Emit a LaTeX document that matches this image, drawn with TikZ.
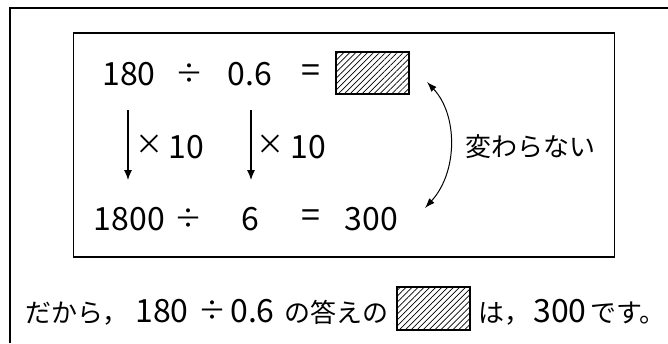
\documentclass[tikz,border=0pt]{standalone}
\usepackage{fontspec}
\setmainfont{Noto Sans CJK JP}
\usetikzlibrary{arrows.meta,patterns.meta}
\begin{document}
\begin{tikzpicture}[x=1pt,y=-1pt,
  num/.style={font=\fontsize{32}{36}\selectfont, inner sep=0pt, anchor=base},
  sym/.style={font=\fontsize{28}{32}\selectfont, inner sep=0pt, anchor=center},
  eqs/.style={font=\fontsize{34}{38}\selectfont, inner sep=0pt, anchor=center},
  jp/.style={font=\fontsize{26}{30}\selectfont, inner sep=0pt, anchor=base west},
  hatchbox/.style={draw=black, line width=1.3pt, inner sep=0pt,
    pattern={Lines[angle=45,distance=4.2pt,line width=0.7pt]}},
  downarrow/.style={-{Latex[length=10pt,width=8pt]}, line width=1.1pt},
  bothtips/.style={{Latex[length=10pt,width=7pt]}-{Latex[length=10pt,width=7pt]}, line width=1pt},
  frameline/.style={line width=1.4pt},
  ]
\useasboundingbox (0,0) rectangle (668,343);
% outer frame (cut by the picture edges)
\draw[frameline] (10,343) -- (10,8) -- (668,8);
% inner box
\node (inner) [draw, line width=1.8pt, minimum width=541pt, minimum height=224pt, inner sep=0pt] at (344,145) {};
% row 1
\node (n180) [num] at (129,85) {180};
\node (div1) [sym] at (189.5,74) {÷};
\node (n06) [num] at (250,85) {0.6};
\node (eq1) [eqs] at (311,74) {=};
\node (box1) [hatchbox, minimum width=73pt, minimum height=42pt] at (372.5,73) {};
% arrows x10
\coordinate (a1s) at (128,110);
\coordinate (a1e) at (128,180);
\coordinate (a2s) at (251,110);
\coordinate (a2e) at (251,180);
\draw[downarrow] (a1s) -- (a1e);
\draw[downarrow] (a2s) -- (a2e);
\node (t1) [sym] at (149.5,145) {×};
\node (m1) [num] at (186,158) {10};
\node (t2) [sym] at (270.5,145) {×};
\node (m2) [num] at (308,158) {10};
% row 2
\node (n1800) [num] at (129.5,230) {1800};
\node (div2) [sym] at (188.5,219) {÷};
\node (n6) [num] at (250,230) {6};
\node (eq2) [eqs] at (311,219) {=};
\node (n300) [num] at (371.5,230) {300};
% curved arrow
\coordinate (c1) at (427,82);
\coordinate (c2) at (425,208);
\draw[bothtips] (c1) .. controls (458,115) and (458,172) .. (c2);
\node (kawaranai) [jp] at (465,156) {変わらない};
% bottom sentence
\node (s1) [jp] at (25,322) {だから，};
\node (s2) [num] at (162,322) {180};
\node (s3) [sym] at (212,311) {÷};
\node (s4) [num] at (252.5,322) {0.6};
\node (s5) [jp] at (284,322) {の答えの};
\node (box2) [hatchbox, minimum width=73pt, minimum height=43pt] at (433.5,308.5) {};
\node (s6) [jp] at (478,322) {は，};
\node (s7) [num] at (560,322) {300};
\node (s8) [jp] at (590,322) {です。};
\end{tikzpicture}
\end{document}
